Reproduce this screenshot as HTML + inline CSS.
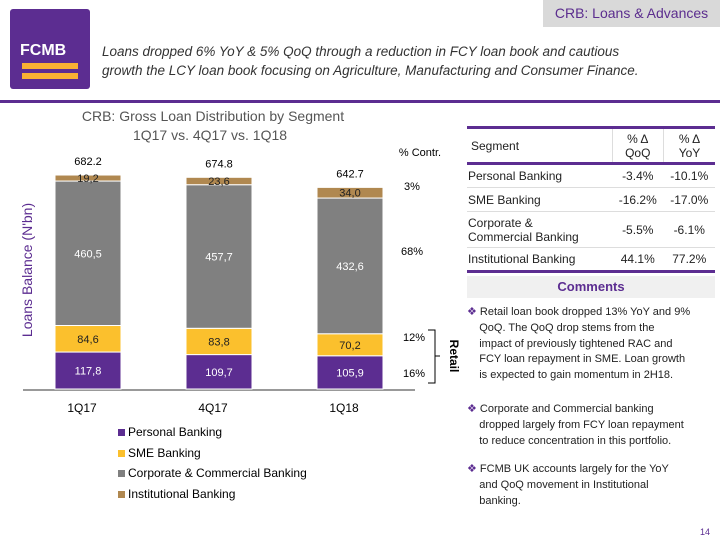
<!DOCTYPE html>
<html><head><meta charset="utf-8"><style>
body{margin:0;width:720px;height:540px;position:relative;background:#fff;font-family:"Liberation Sans",sans-serif;overflow:hidden}
.a{position:absolute}
table{border-collapse:collapse}
.c{white-space:nowrap}
</style></head><body>
<div class="a" style="left:543px;top:0;width:177px;height:27px;background:#d9d9d9;color:#5b2d8e;font-size:14px;line-height:27px;text-align:center">CRB: Loans &amp; Advances</div>
<div class="a" style="left:10px;top:9px;width:80px;height:80px;background:#5c2d91;border-radius:3px">
 <div class="a" style="left:10px;top:33px;color:#fff;font-weight:bold;font-size:16px">FCMB</div>
 <div class="a" style="left:12px;top:54px;width:56px;height:6px;background:#f9b233"></div>
 <div class="a" style="left:12px;top:64px;width:56px;height:6px;background:#f9b233"></div>
</div>
<div class="a c" style="left:102px;top:42px;font-size:13.5px;font-style:italic;color:#333;line-height:19px">Loans dropped 6% YoY &amp; 5% QoQ through a reduction in FCY loan book and cautious<br>growth the LCY loan book focusing on Agriculture, Manufacturing and Consumer Finance.</div>
<div class="a" style="left:0;top:100px;width:720px;height:3px;background:#5c2d91"></div>
<svg class="a" style="left:0;top:0" width="470" height="540" id="chart">
<text x="213" y="121" text-anchor="middle" font-size="14" fill="#555">CRB:  Gross Loan Distribution by Segment</text>
<text x="210" y="140" text-anchor="middle" font-size="14" fill="#555">1Q17 vs. 4Q17 vs. 1Q18</text>
<text transform="translate(32,270) rotate(-90)" text-anchor="middle" font-size="14" fill="#5c2d91">Loans Balance (N'bn)</text>
<text x="420" y="156" text-anchor="middle" font-size="11" fill="#000">% Contr.</text>
<text x="412" y="190" text-anchor="middle" font-size="11">3%</text>
<text x="412" y="255" text-anchor="middle" font-size="11">68%</text>
<text x="414" y="341" text-anchor="middle" font-size="11">12%</text>
<text x="414" y="377" text-anchor="middle" font-size="11">16%</text>
<path d="M428,330 H435 V383 H428 M435,356 H440" stroke="#000" fill="none"/>
<text transform="translate(450,356) rotate(90)" text-anchor="middle" font-size="12" font-weight="bold">Retail</text>
<line x1="23" y1="390" x2="415" y2="390" stroke="#999" stroke-width="2"/>
</svg>
<div class="a" style="left:118px;top:422px;font-size:12px;color:#000;line-height:20.5px">
<div><span style="display:inline-block;width:7px;height:7px;background:#5c2d91;margin-right:3px"></span>Personal Banking</div>
<div><span style="display:inline-block;width:7px;height:7px;background:#fbc02d;margin-right:3px"></span>SME Banking</div>
<div><span style="display:inline-block;width:7px;height:7px;background:#808080;margin-right:3px"></span>Corporate &amp; Commercial Banking</div>
<div><span style="display:inline-block;width:7px;height:7px;background:#b08850;margin-right:3px"></span>Institutional Banking</div>
</div>
<table class="a" style="left:467px;top:126px;width:248px;font-size:12px;color:#222">
<tr style="border-top:3px solid #5c2d91;border-bottom:3px solid #5c2d91;height:36px"><td style="padding-left:4px">Segment</td><td style="text-align:center;border-left:1px solid #ddd">% Δ<br>QoQ</td><td style="text-align:center;border-left:1px solid #ddd">% Δ<br>YoY</td></tr>
<tr style="height:24px;border-bottom:1px solid #ddd"><td>Personal Banking</td><td style="text-align:center">-3.4%</td><td style="text-align:center">-10.1%</td></tr>
<tr style="height:24px;border-bottom:1px solid #ddd"><td>SME Banking</td><td style="text-align:center">-16.2%</td><td style="text-align:center">-17.0%</td></tr>
<tr style="height:36px;border-bottom:1px solid #ddd"><td>Corporate &amp;<br>Commercial Banking</td><td style="text-align:center">-5.5%</td><td style="text-align:center">-6.1%</td></tr>
<tr style="height:24px;border-bottom:3px solid #5c2d91"><td>Institutional Banking</td><td style="text-align:center">44.1%</td><td style="text-align:center">77.2%</td></tr>
</table>
<div class="a" style="left:467px;top:276px;width:248px;height:22px;background:#f0f0f0;color:#5c2d91;font-weight:bold;font-size:13px;text-align:center;line-height:22px">Comments</div>
<div class="a c" style="left:467px;top:305px;font-size:11px;line-height:15.8px;color:#222"><span style="color:#5c2d91">❖</span> Retail loan book dropped 13% YoY and 9%<br>&nbsp;&nbsp;&nbsp;&nbsp;QoQ. The QoQ drop stems from the<br>&nbsp;&nbsp;&nbsp;&nbsp;impact of previously tightened RAC and<br>&nbsp;&nbsp;&nbsp;&nbsp;FCY loan repayment in SME. Loan growth<br>&nbsp;&nbsp;&nbsp;&nbsp;is expected to gain momentum in 2H18.</div>
<div class="a c" style="left:467px;top:402px;font-size:11px;line-height:15.8px;color:#222"><span style="color:#5c2d91">❖</span> Corporate and Commercial banking<br>&nbsp;&nbsp;&nbsp;&nbsp;dropped largely from FCY loan repayment<br>&nbsp;&nbsp;&nbsp;&nbsp;to reduce concentration in this portfolio.</div>
<div class="a c" style="left:467px;top:462px;font-size:11px;line-height:15.8px;color:#222"><span style="color:#5c2d91">❖</span> FCMB UK accounts largely for the YoY<br>&nbsp;&nbsp;&nbsp;&nbsp;and QoQ movement in Institutional<br>&nbsp;&nbsp;&nbsp;&nbsp;banking.</div>
<div class="a" style="left:700px;top:527px;font-size:9px;color:#5c2d91">14</div>
<script>
const categories=["1Q17","4Q17","1Q18"];
const personal=[117.8,109.7,105.9];
const sme=[84.6,83.8,70.2];
const corporate=[460.5,457.7,432.6];
const institutional=[19.2,23.6,34.0];
const totals=["682.2","674.8","642.7"];
const series=[[personal,"#5c2d91","#fff"],[sme,"#fbc02d","#222"],[corporate,"#808080","#fff"],[institutional,"#b08850","#222"]];
const svg=document.getElementById('chart');
const NS="http://www.w3.org/2000/svg";
const base=389,k=0.3137,bw=66;
const xPos=i=>55+i*131;
const yScale=v=>v*k;
categories.forEach((c,i)=>{
 let acc=0;
 series.forEach(([arr,col,tc],s)=>{
  const h=yScale(arr[i]);const y=base-yScale(acc)-h;
  const r=document.createElementNS(NS,'rect');
  r.setAttribute('x',xPos(i));r.setAttribute('y',y);r.setAttribute('width',bw);r.setAttribute('height',h);
  r.setAttribute('fill',col);r.setAttribute('stroke','#fff');r.setAttribute('stroke-width','1');
  
  
  svg.appendChild(r);
  const t=document.createElementNS(NS,'text');
  t.setAttribute('x',xPos(i)+bw/2);t.setAttribute('y',y+h/2+4);t.setAttribute('text-anchor','middle');
  t.setAttribute('font-size','11');t.setAttribute('fill',tc);
  t.textContent=arr[i].toFixed(1).replace('.',',');
  
  
  svg.appendChild(t);
  acc+=arr[i];
 });
 const tt=document.createElementNS(NS,'text');
 tt.setAttribute('x',xPos(i)+bw/2);tt.setAttribute('y',base-yScale(acc)-10);tt.setAttribute('text-anchor','middle');tt.setAttribute('font-size','11');
 tt.textContent=totals[i];
 
 
 svg.appendChild(tt);
 const xl=document.createElementNS(NS,'text');
 xl.setAttribute('x',xPos(i)+bw/2-6);xl.setAttribute('y',412);xl.setAttribute('text-anchor','middle');xl.setAttribute('font-size','12');
 xl.textContent=c;
 
 
 svg.appendChild(xl);
});
</script>
</body></html>
